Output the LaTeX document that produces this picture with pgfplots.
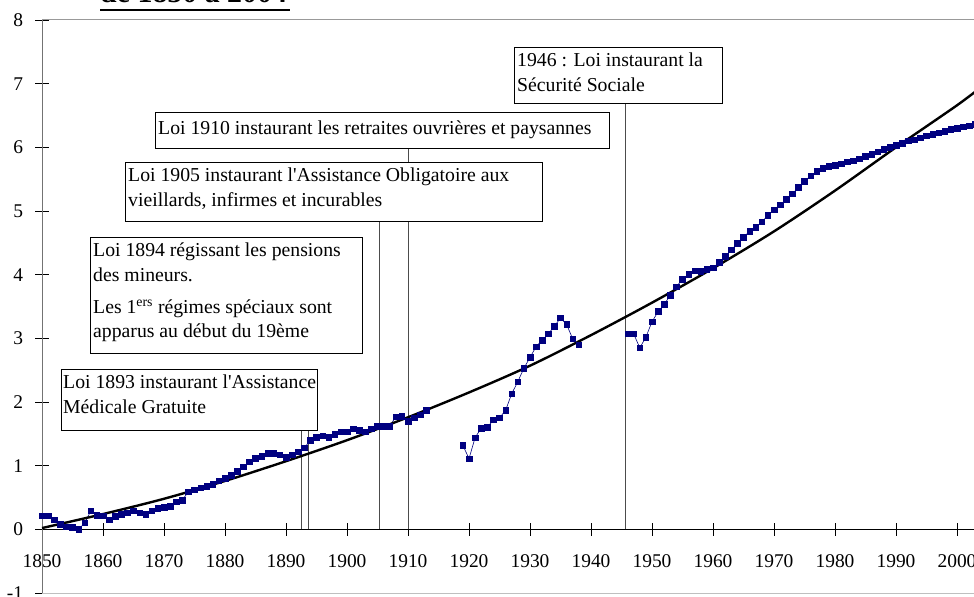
\documentclass[border=0pt]{standalone}
\usepackage{fontspec}
\setmainfont{Liberation Serif}[Ligatures=TeXOff]
\usepackage{pgfplots}
\usepackage{pgfplotstable}
\pgfplotsset{compat=1.18}
\definecolor{navy}{HTML}{000080}

% ratio series, gaps (wars) as nan
\pgfplotstableread{
year val
1850 0.21
1851 0.21
1852 0.15
1853 0.08
1854 0.04
1855 0.03
1856 0.00
1857 0.10
1858 0.29
1859 0.22
1860 0.21
1861 0.15
1862 0.20
1863 0.24
1864 0.26
1865 0.29
1866 0.26
1867 0.24
1868 0.29
1869 0.33
1870 0.35
1871 0.36
1872 0.43
1873 0.46
1874 0.59
1875 0.62
1876 0.65
1877 0.68
1878 0.71
1879 0.76
1880 0.80
1881 0.85
1882 0.91
1883 0.98
1884 1.06
1885 1.12
1886 1.15
1887 1.19
1888 1.19
1889 1.17
1890 1.13
1891 1.17
1892 1.22
1893 1.28
1894 1.40
1895 1.45
1896 1.47
1897 1.45
1898 1.49
1899 1.53
1900 1.53
1901 1.58
1902 1.56
1903 1.53
1904 1.58
1905 1.62
1906 1.62
1907 1.62
1908 1.77
1909 1.78
1910 1.70
1911 1.75
1912 1.80
1913 1.87
1914 nan
1919 1.32
1920 1.11
1921 1.44
1922 1.59
1923 1.60
1924 1.72
1925 1.75
1926 1.87
1927 2.13
1928 2.32
1929 2.53
1930 2.70
1931 2.87
1932 2.97
1933 3.07
1934 3.19
1935 3.32
1936 3.22
1937 2.99
1938 2.90
1939 nan
1946 3.07
1947 3.07
1948 2.85
1949 3.02
1950 3.26
1951 3.42
1952 3.53
1953 3.68
1954 3.81
1955 3.93
1956 4.01
1957 4.06
1958 4.05
1959 4.08
1960 4.11
1961 4.19
1962 4.29
1963 4.39
1964 4.49
1965 4.59
1966 4.68
1967 4.74
1968 4.83
1969 4.93
1970 5.02
1971 5.10
1972 5.18
1973 5.27
1974 5.37
1975 5.47
1976 5.55
1977 5.62
1978 5.67
1979 5.70
1980 5.72
1981 5.74
1982 5.77
1983 5.79
1984 5.82
1985 5.86
1986 5.89
1987 5.93
1988 5.97
1989 6.00
1990 6.03
1991 6.06
1992 6.10
1993 6.12
1994 6.15
1995 6.18
1996 6.20
1997 6.23
1998 6.25
1999 6.28
2000 6.30
2001 6.32
2002 6.34
2003 6.36
2004 6.38
}\ratio

\begin{document}
\begin{tikzpicture}
\begin{axis}[
    at={(42bp,4bp)}, anchor=south west,
    scale only axis, width=976bp, height=573bp,
    xmin=1850, xmax=2010, ymin=-1, ymax=8,
    axis x line=middle, axis y line=left,
    x axis line style={-, black, line width=1.2bp},
    y axis line style={-, black!55, line width=1bp},
    xtick={1850,1860,...,2000}, ytick={-1,0,...,8},
    tick align=center, major tick length=13bp,
    tick style={black, line width=0.8bp},
    hide obscured x ticks=false, hide obscured y ticks=false,
    /pgf/number format/assume math mode=true,
    /pgf/number format/1000 sep={},
    xticklabel style={font=\fontsize{19.5}{22}\selectfont, yshift=-15bp},
    yticklabel style={font=\fontsize{19.5}{22}\selectfont, xshift=-9bp},
    clip=false,
    unbounded coords=jump,
]
\draw[black!40, line width=1bp] (rel axis cs:0,1) -- (rel axis cs:1,1);
\draw[black!25, line width=1bp] (rel axis cs:0,0) -- (rel axis cs:1,0);
% law markers
\draw[black!70, line width=0.8bp] (axis cs:1892.6,0) -- (axis cs:1892.6,2.23);
\draw[black!70, line width=0.8bp] (axis cs:1893.7,0) -- (axis cs:1893.7,2.23);
\draw[black!70, line width=0.8bp] (axis cs:1905.3,0) -- (axis cs:1905.3,4.86);
\draw[black!70, line width=0.8bp] (axis cs:1910,0) -- (axis cs:1910,5.99);
\draw[black!70, line width=0.8bp] (axis cs:1945.7,0) -- (axis cs:1945.7,6.70);

\addplot[navy, line width=0.6bp, mark=square*, mark size=2.8bp,
    mark options={solid, fill=navy}] table[x=year, y=val] {\ratio};
% trend curve
\addplot[black, line width=2.4bp, smooth] coordinates {
    (1850,0.02) (1860,0.24) (1870,0.48) (1880,0.76) (1890,1.07)
    (1900,1.40) (1910,1.76) (1920,2.15) (1930,2.57) (1940,3.05)
    (1950,3.56) (1960,4.10) (1970,4.68) (1980,5.32) (1990,6.00)
    (2000,6.66) (2004,6.95)
};
\end{axis}

% boxes, in pixel units of the reference
\begin{scope}[x=1bp, y=-1bp, yshift=597bp, font=\fontsize{19.8}{22}\selectfont]
\filldraw[fill=white, draw=black, line width=0.8bp] (514,47) rectangle (722,103);
\node[anchor=base west, inner sep=0] at (517,66.5) {1946 : Loi instaurant la};
\node[anchor=base west, inner sep=0] at (517,91.5) {Sécurité Sociale};

\filldraw[fill=white, draw=black, line width=0.8bp] (155,112) rectangle (609,148);
\node[anchor=base west, inner sep=0] at (158,135) {Loi 1910 instaurant les retraites ouvrières et paysannes};

\filldraw[fill=white, draw=black, line width=0.8bp] (125,162) rectangle (542,221);
\node[anchor=base west, inner sep=0] at (128,182) {Loi 1905 instaurant l'Assistance Obligatoire aux};
\node[anchor=base west, inner sep=0] at (128,207) {vieillards, infirmes et incurables};

\filldraw[fill=white, draw=black, line width=0.8bp] (90,237) rectangle (362,353);
\node[anchor=base west, inner sep=0] at (93,257) {Loi 1894 régissant les pensions};
\node[anchor=base west, inner sep=0] at (93,282) {des mineurs.};
\node[anchor=base west, inner sep=0] at (93,314) {Les 1\textsuperscript{ers} régimes spéciaux sont};
\node[anchor=base west, inner sep=0] at (93,338) {apparus au début du 19ème};

\filldraw[fill=white, draw=black, line width=0.8bp] (61,369) rectangle (317,430);
\node[anchor=base west, inner sep=0] at (63,389) {Loi 1893 instaurant l'Assistance};
\node[anchor=base west, inner sep=0] at (63,414) {Médicale Gratuite};

% title, cut by the top of the picture
\node[anchor=base west, inner sep=0, font=\fontsize{30}{36}\selectfont\bfseries] at (100,2.5) {de 1850 à 2004};
\draw[line width=2bp] (100,10) -- (290,10);
\end{scope}

\pgfresetboundingbox
\useasboundingbox (0,0) rectangle (974bp,597bp);
\end{tikzpicture}
\end{document}
